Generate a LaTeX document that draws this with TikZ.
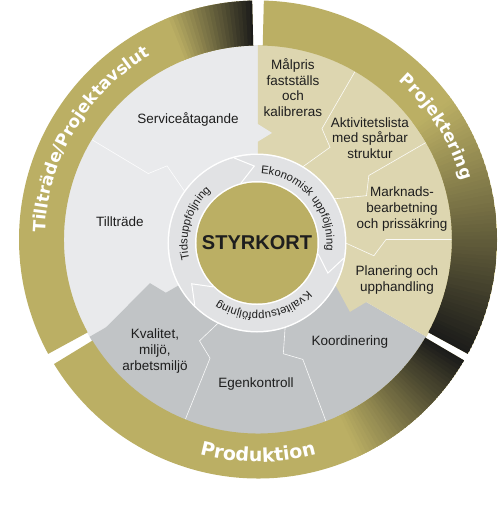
\documentclass[tikz,border=0pt]{standalone}
\usepackage{fontspec}
\setmainfont{Liberation Sans}
\newfontfamily\bandfont{DejaVu Sans}
\usetikzlibrary{decorations.text}

\definecolor{styrGold}{RGB}{187,175,100}
\definecolor{bandDark}{RGB}{28,28,26}
\definecolor{lightSector}{RGB}{233,234,236}
\definecolor{beigeSector}{RGB}{221,214,176}
\definecolor{greySector}{RGB}{193,196,198}
\definecolor{ringGrey}{RGB}{225,226,228}
\definecolor{labelText}{RGB}{30,30,30}

\newcommand\bandseg[2]{(#1:239) arc[start angle=#1, end angle=#2, radius=239] -- (#2:194) arc[start angle=#2, end angle=#1, radius=194] -- cycle}
\newcommand\bandtext{\bandfont\bfseries\fontsize{17}{20}\selectfont}
\newcommand\ringtext{\fontsize{11.3}{13}\selectfont}

\begin{document}
\begin{tikzpicture}[x=1pt, y=1pt,
  sectortext/.style={font=\fontsize{13.5}{15.7}\selectfont, text=labelText, align=center, inner sep=0pt},
  subline/.style={white, line width=0.6pt, opacity=0.9},
  chevron/.style={white, line width=1pt}]
\useasboundingbox (-257,-277) rectangle (243,243);

\begin{scope}[shift={(1,3.5)}]
% inner disc
\fill[lightSector] (0,0) -- (90:194.5) arc[start angle=90, end angle=210, radius=194.5] -- cycle;
\fill[greySector] (0,0) -- (210:194.5) arc[start angle=210, end angle=330, radius=194.5] -- cycle;
\fill[beigeSector] (0,0) -- (-30:194.5) arc[start angle=-30, end angle=90, radius=194.5] -- cycle;
\fill[lightSector] (92:118) -- (82.5:107.5) -- (92:96) -- cycle;
\fill[greySector] (211.5:194) -- (202:116.5) -- (211.5:105) -- cycle;
\fill[beigeSector] (-28.5:85) -- (-38.2:117) -- (-28.5:127) -- cycle;
\foreach \cut in {149,60,30,0,248,290.5}
  \draw[subline] (\cut:194) -- (\cut:128) -- ({\cut-8}:117) -- (\cut:80);

% outer band
\fill[styrGold] \bandseg{91.4}{208.6};
\fill[styrGold] \bandseg{-28.6}{88.6};
\fill[styrGold] \bandseg{211.4}{329.6};
\begin{scope}
\clip \bandseg{91.4}{208.6};
\foreach \ang in {91,...,112}{
  \pgfmathsetmacro\angEnd{\ang+1.2}
  \pgfmathtruncatemacro\pct{max(0,min(100,(\ang+0.6-91.4)/21*100))}
  \fill[styrGold!\pct!bandDark] \bandseg{\ang}{\angEnd};
}
\end{scope}
\begin{scope}
\clip \bandseg{-28.6}{88.6};
\foreach \ang in {-29,...,36}{
  \pgfmathsetmacro\angEnd{\ang+1.2}
  \pgfmathtruncatemacro\pct{max(0,min(100,(\ang+0.6+28.6)/64.6*100))}
  \fill[styrGold!\pct!bandDark] \bandseg{\ang}{\angEnd};
}
\end{scope}
\begin{scope}
\clip \bandseg{211.4}{329.6};
\foreach \ang in {294,...,330}{
  \pgfmathsetmacro\angEnd{\ang+1.2}
  \pgfmathtruncatemacro\pct{max(0,min(100,(329.6-\ang-0.6)/34.6*100))}
  \fill[styrGold!\pct!bandDark] \bandseg{\ang}{\angEnd};
}
\end{scope}

\path[decorate, decoration={text along path, text align=center, text color=white,
  text={|\bandtext|Tillträde/Projektavslut}}] (205:213) arc[start angle=205, end angle=93.4, radius=213];
\path[decorate, decoration={text along path, text align=center, text color=white,
  text={|\bandtext|Projektering}}] (86:212) arc[start angle=86, end angle=-21.5, radius=212];
\path[decorate, decoration={text along path, text align=center, text color=white,
  text={|\bandfont\bfseries\fontsize{19}{22}\selectfont|Produktion}}] (-145:222.5) arc[start angle=-145, end angle=-35, radius=222.5];
\end{scope}

% styrkort ring
\fill[white] (0,0) circle (89.5);
\fill[ringGrey] (0,0) circle (88);
\fill[white] (0,0) circle (62);
\fill[styrGold] (0,0) circle (60.5);
\foreach \t in {105,-10,225}
  \draw[chevron] (\t:88) -- ({\t-13}:77) -- (\t:62);

\path[decorate, decoration={text along path, text align=center, text color=labelText,
  text={|\ringtext|Tidsuppföljning}}] (214:69.5) arc[start angle=214, end angle=111.4, radius=69.5];
\path[decorate, decoration={text along path, text align=center, text color=labelText,
  text={|\ringtext|Ekonomisk uppföljning}}] (96:69.5) arc[start angle=96, end angle=-15.4, radius=69.5];
\path[decorate, decoration={text along path, text align=center, text color=labelText,
  text={|\ringtext|Kvalitetsuppföljning}}] (-30:69.5) arc[start angle=-30, end angle=-137.2, radius=69.5];

\node[text=labelText, font=\bfseries\fontsize{20}{24}\selectfont] (styrkort) at (0,0) {STYRKORT};

\node[sectortext] (service) at (-69,124) {Serviceåtagande};
\node[sectortext] (tilltrade) at (-137,21) {Tillträde};
\node[sectortext] (malpris) at (36,155.5) {Målpris\\fastställs\\och\\kalibreras};
\node[sectortext] (aktivitet) at (113,105) {Aktivitetslista\\med spårbar\\struktur};
\node[sectortext] (marknad) at (145,34) {Marknads-\\bearbetning\\och prissäkring};
\node[sectortext] (planering) at (140,-37) {Planering och\\upphandling};
\node[sectortext] (koordinering) at (93,-99) {Koordinering};
\node[sectortext] (egenkontroll) at (-1,-141) {Egenkontroll};
\node[sectortext] (kvalitet) at (-102,-108) {Kvalitet,\\miljö,\\arbetsmiljö};
\end{tikzpicture}
\end{document}
